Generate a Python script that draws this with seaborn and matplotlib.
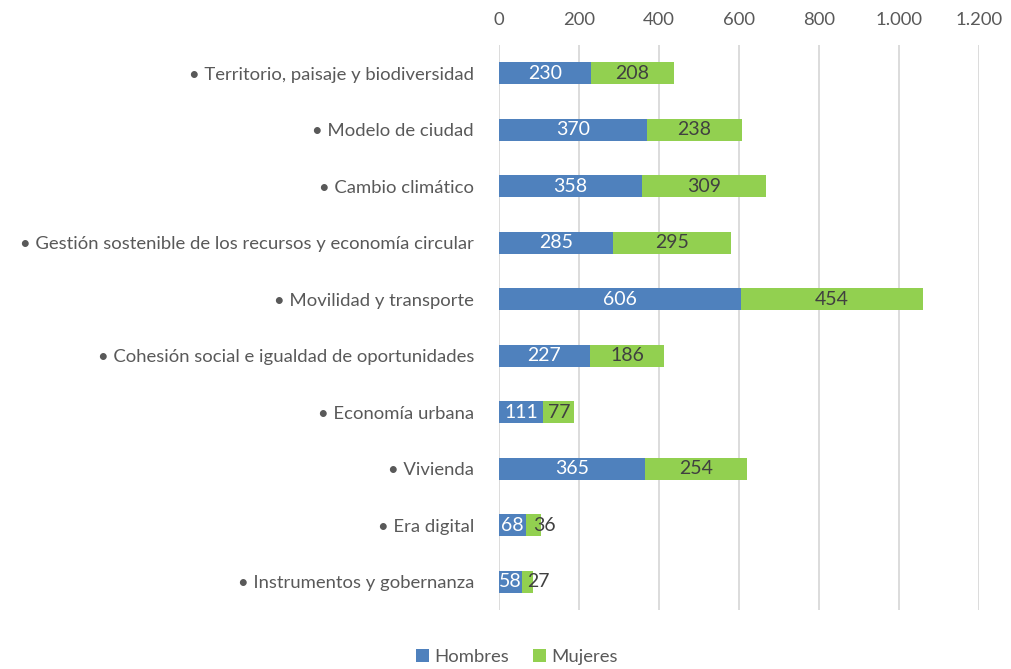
import matplotlib.pyplot as plt
import seaborn as sns
import pandas as pd

categorias = [
    "Territorio, paisaje y biodiversidad",
    "Modelo de ciudad",
    "Cambio climático",
    "Gestión sostenible de los recursos y economía circular",
    "Movilidad y transporte",
    "Cohesión social e igualdad de oportunidades",
    "Economía urbana",
    "Vivienda",
    "Era digital",
    "Instrumentos y gobernanza",
]
hombres = [230, 370, 358, 285, 606, 227, 111, 365, 68, 58]
mujeres = [208, 238, 309, 295, 454, 186, 77, 254, 36, 27]
ticks_x = [0, 200, 400, 600, 800, 1000, 1200]
ticks_x_txt = ["0", "200", "400", "600", "800", "1.000", "1.200"]

azul = "#4F81BD"
verde = "#92D050"
gris_txt = "#595959"

sns.set_theme(style="white")
plt.rcParams['font.family'] = ['Lato', 'DejaVu Sans']

df = pd.DataFrame({
    "cat": ["\u2022 " + c for c in categorias],
    "Hombres": hombres,
    "Mujeres": mujeres,
})
df["Total"] = df["Hombres"] + df["Mujeres"]

fig = plt.figure(figsize=(10.11, 6.69), dpi=100)
ax = fig.add_axes([499 / 1011, 1 - 610 / 669, 480 / 1011, 565 / 669])

sns.barplot(data=df, y="cat", x="Total", color=verde, width=0.39,
            saturation=1, linewidth=0, ax=ax, label="Mujeres")
sns.barplot(data=df, y="cat", x="Hombres", color=azul, width=0.39,
            saturation=1, linewidth=0, ax=ax, label="Hombres")
handles, labels = ax.get_legend_handles_labels()
if ax.get_legend() is not None:
    ax.get_legend().remove()

fs = 13.3
for i, (h, m) in enumerate(zip(hombres, mujeres)):
    ax.text(h / 2, i, str(h), ha="center", va="center", color="white", fontsize=14)
    xm = h + m / 2
    if m < 50:
        xm += 28  # Excel corre la etiqueta cuando no cabe
    ax.text(xm, i, str(m), ha="center", va="center", color="#404040", fontsize=14)

ax.set_xlim(0, 1200)
ax.set_ylim(9.5, -0.5)
ax.set_xticks(ticks_x)
ax.set_xticklabels(ticks_x_txt)
ax.xaxis.tick_top()
ax.grid(axis="x", color="#D9D9D9", linewidth=1.3)
ax.set_axisbelow(True)
for s in ax.spines.values():
    s.set_visible(False)
ax.tick_params(axis="both", length=0, labelsize=fs, colors=gris_txt)
ax.tick_params(axis="x", pad=12)
ax.tick_params(axis="y", pad=18)
ax.set_xlabel("")
ax.set_ylabel("")

orden = [labels.index("Hombres"), labels.index("Mujeres")]
leg = fig.legend([handles[k] for k in orden], [labels[k] for k in orden],
                 loc="center", bbox_to_anchor=(517 / 1011, 1 - 657 / 669),
                 ncol=2, frameon=False, fontsize=fs, handlelength=0.7,
                 handleheight=0.7, columnspacing=1.3, handletextpad=0.3)
for t in leg.get_texts():
    t.set_color(gris_txt)

fig.savefig("out.png", dpi=100)
